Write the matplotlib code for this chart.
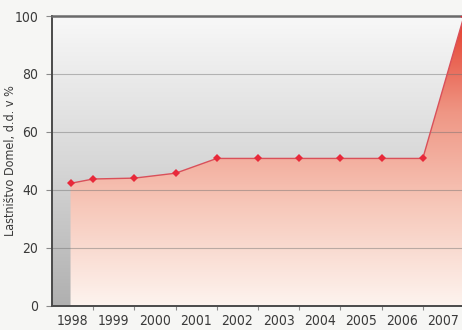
import numpy as np
import matplotlib
matplotlib.use("Agg")
import matplotlib.pyplot as plt
from matplotlib import font_manager
from matplotlib.colors import LinearSegmentedColormap
from matplotlib.patches import Polygon

# Ownership share of Domel, d.d. (%)
years = ['1998', '1999', '2000', '2001', '2002', '2003', '2004', '2005', '2006', '2007']
points_at = [1998.45, 1999, 2000, 2001, 2002, 2003, 2004, 2005, 2006, 2007, 2008]
share = [42.2, 43.7, 44.0, 45.7, 50.8, 50.8, 50.8, 50.8, 50.8, 50.8, 100]
y_ticks = [0, 20, 40, 60, 80, 100]


def narrow_font():
    """Pick a condensed sans face if one is installed."""
    faces = font_manager.fontManager.ttflist
    for f in faces:
        if f.name == 'Liberation Sans Narrow' and f.weight in (400, 'normal') \
                and f.style == 'normal':
            return font_manager.FontProperties(fname=f.fname), True
    for f in faces:
        st = str(f.stretch)
        if f.style == 'normal' and f.weight in (400, 'normal') and (
                'condensed' in st or 'Condensed' in f.fname or 'Narrow' in f.fname):
            if f.name in ('Noto Sans', 'Open Sans', 'Roboto', 'Liberation Sans',
                          'DejaVu Sans', 'Lato', 'Inter'):
                return font_manager.FontProperties(fname=f.fname), True
    return font_manager.FontProperties(family='Liberation Sans'), False


fp, is_narrow = narrow_font()
tick_size = 10 if is_narrow else 8.8
label_size = 9.0 if is_narrow else 7.3
text_color = '#3a3a3a'

fig = plt.figure(figsize=(4.62, 3.30), dpi=100, facecolor='#f6f6f4')
ax = fig.add_axes([52 / 462, 24.5 / 330, 412 / 462, 289.5 / 330])
ax.set_xlim(1998, 2008)
ax.set_ylim(0, 100)

# grey vertical gradient behind the plot
bg_cmap = LinearSegmentedColormap.from_list('bg', ['#b0b0b0', '#d8d8d8', '#f8f8f8'])
grad = np.linspace(0, 1, 256).reshape(-1, 1)
ax.imshow(grad, cmap=bg_cmap, origin='lower', extent=[1998, 2008, 0, 100],
          aspect='auto', zorder=0)

# red gradient area under the line
red_cmap = LinearSegmentedColormap.from_list(
    'red', ['#fdf3ee', '#f7c9bb', '#ef9684', '#e43a2a'])
img = ax.imshow(grad, cmap=red_cmap, origin='lower', extent=[1998, 2008, 0, 100],
                aspect='auto', zorder=1)
verts = [(points_at[0], 0)] + list(zip(points_at, share)) + [(points_at[-1], 0)]
area = Polygon(verts, closed=True, facecolor='none', edgecolor='none',
               transform=ax.transData)
ax.add_patch(area)
img.set_clip_path(area)

# grid lines
for v in y_ticks[1:-1]:
    ax.axhline(v, color='#6e6e6e', lw=0.8, alpha=0.45, zorder=2)

ax.plot(points_at, share, color='#d9505a', lw=1.0, zorder=3)
ax.plot(points_at, share, linestyle='none', marker='D', markersize=4.2,
        color='#e8293a', markeredgewidth=0, zorder=4)

# axes frame
for side in ['left', 'bottom']:
    ax.spines[side].set_color('#4a4a4a')
    ax.spines[side].set_linewidth(1.4)
ax.spines['top'].set_color('#6a6a6a')
ax.spines['top'].set_linewidth(1.8)
ax.spines['right'].set_visible(False)

ax.set_yticks(y_ticks)
ax.set_yticklabels([str(v) for v in y_ticks])
ax.tick_params(axis='y', length=4, width=0.8, color='#8a8a8a', pad=6,
               labelcolor=text_color)

ax.set_xticks(np.arange(1999, 2008))
ax.set_xticklabels([])
ax.tick_params(axis='x', which='major', length=3, width=0.8, color='#8a8a8a')
ax.set_xticks([int(y) + 0.5 for y in years], minor=True)
ax.set_xticklabels(years, minor=True)
ax.tick_params(axis='x', which='minor', length=0, pad=6, labelcolor=text_color)

for lab in ax.get_xticklabels(minor=True) + ax.get_yticklabels():
    lab.set_fontproperties(fp)
    lab.set_fontsize(tick_size)

ax.set_ylabel('Lastništvo Domel, d.d. v %', fontproperties=fp, color=text_color)
ax.yaxis.label.set_fontsize(label_size)
ax.yaxis.set_label_coords(-35 / 412, 0.5)

fig.savefig('out.png', dpi=100, facecolor=fig.get_facecolor())
